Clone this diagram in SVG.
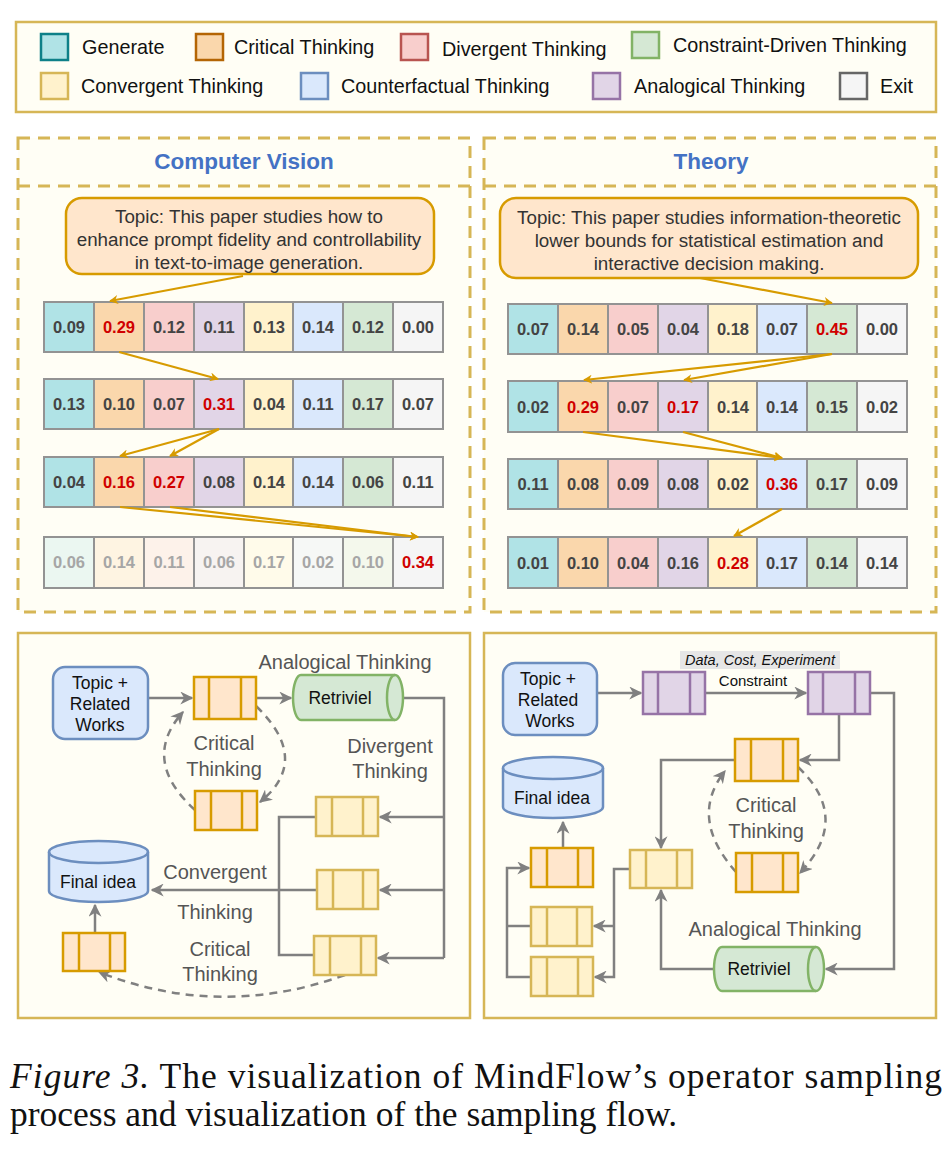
<svg xmlns="http://www.w3.org/2000/svg" width="952" height="1150" viewBox="0 0 952 1150">
<defs>
<style>
text{font-family:"Liberation Sans",Arial,sans-serif}
.lg{font-size:19.8px;fill:#111}
.sw{stroke-width:2.5}
.c{font-size:16.5px;font-weight:bold;fill:#444;text-anchor:middle;dominant-baseline:central}
.r{fill:#d00000}
.f{fill:#a6a6a6}
.cell{stroke:#939393;stroke-width:2}
.g{fill:#b0e3e6}.o{fill:#fad7ac}.d{fill:#f8cecc}.a{fill:#e1d5e7}.y{fill:#fff2cc}.b{fill:#dae8fc}.gr{fill:#d5e8d4}.x{fill:#f5f5f5}
.fade .g,.fade .o,.fade .d,.fade .a,.fade .y,.fade .b,.fade .gr{fill-opacity:0.25}
.oa{stroke:#d79b00;stroke-width:2.2;fill:none;marker-end:url(#oar)}
.ga{stroke:#808080;stroke-width:2.5;fill:none}
.ge{marker-end:url(#gar)}
.dash{stroke-dasharray:8 6}
.qo rect{fill:#ffe6cc;stroke:#d79b00;stroke-width:2.5}.qo line{stroke:#d79b00;stroke-width:2.5}
.qy rect{fill:#fff2cc;stroke:#d6b656;stroke-width:2.5}.qy line{stroke:#d6b656;stroke-width:2.5}
.qp rect{fill:#e1d5e7;stroke:#9673a6;stroke-width:2.5}.qp line{stroke:#9673a6;stroke-width:2.5}
.lab{font-size:20px;fill:#555;text-anchor:middle}
.nt{font-size:17.5px;fill:#111;text-anchor:middle}
.panel{fill:#fffef5;stroke:#d6b656;stroke-width:2.5}
.dp{fill:#fffef5;stroke:#d6b656;stroke-width:3;stroke-dasharray:12 8}
.tb{fill:#ffe6cc;stroke:#d79b00;stroke-width:2.5}
.tt{font-size:18.8px;fill:#333;text-anchor:middle}
.hd{font-size:22.5px;font-weight:bold;fill:#4472c4;text-anchor:middle}
.cap{font-family:"Liberation Serif","Times New Roman",serif;font-size:35.5px;fill:#111}
</style>
<marker id="oar" viewBox="0 0 10 10" refX="9" refY="5" markerWidth="9" markerHeight="9" orient="auto" markerUnits="userSpaceOnUse" ><path d="M0,0 L10,5 L0,10 L3,5 z" fill="#d79b00"/></marker>
<marker id="gar" viewBox="0 0 10 10" refX="9" refY="5" markerWidth="13" markerHeight="13" orient="auto" markerUnits="userSpaceOnUse"><path d="M0,0 L10,5 L0,10 L3,5 z" fill="#808080"/></marker>
</defs>
<rect width="952" height="1150" fill="#fff"/>

<g id="legend">
<rect x="16" y="22" width="920" height="90" fill="#fffef5" stroke="#d6b656" stroke-width="2.5"/>
<rect x="41" y="34" width="27" height="26" fill="#b0e3e6" stroke="#0e8088" class="sw"/><text x="82" y="54" class="lg">Generate</text>
<rect x="196" y="34" width="27" height="26" fill="#fad7ac" stroke="#b46504" class="sw"/><text x="234" y="54" class="lg">Critical Thinking</text>
<rect x="401" y="34" width="27" height="26" fill="#f8cecc" stroke="#b85450" class="sw"/><text x="442" y="56" class="lg">Divergent Thinking</text>
<rect x="632" y="32" width="27" height="26" fill="#d5e8d4" stroke="#82b366" class="sw"/><text x="673" y="52" class="lg">Constraint-Driven Thinking</text>
<rect x="41" y="73" width="27" height="26" fill="#fff2cc" stroke="#d6b656" class="sw"/><text x="81" y="93" class="lg">Convergent Thinking</text>
<rect x="301" y="73" width="27" height="26" fill="#dae8fc" stroke="#6c8ebf" class="sw"/><text x="341" y="93" class="lg">Counterfactual Thinking</text>
<rect x="593" y="73" width="27" height="26" fill="#e1d5e7" stroke="#9673a6" class="sw"/><text x="634" y="93" class="lg">Analogical Thinking</text>
<rect x="840" y="73" width="27" height="26" fill="#f5f5f5" stroke="#666666" class="sw"/><text x="880" y="93" class="lg">Exit</text>
</g>

<g id="cv-panel">
<rect x="18" y="138" width="452" height="474" class="dp"/>
<line x1="18" y1="186" x2="470" y2="186" stroke="#d6b656" stroke-width="3" stroke-dasharray="12 8"/>
<text x="244" y="169" class="hd">Computer Vision</text>
<rect x="66" y="198" width="368" height="76" rx="16" class="tb"/>
<text x="249" y="223" class="tt">Topic: This paper studies how to</text>
<text x="249" y="246" class="tt">enhance  prompt fidelity and controllability</text>
<text x="249" y="269" class="tt">in text-to-image generation.</text>
</g>
<g id="th-panel">
<rect x="484" y="138" width="452" height="474" class="dp"/>
<line x1="484" y1="186" x2="936" y2="186" stroke="#d6b656" stroke-width="3" stroke-dasharray="12 8"/>
<text x="711" y="169" class="hd">Theory</text>
<rect x="500" y="198" width="418" height="80" rx="16" class="tb"/>
<text x="709" y="224" class="tt">Topic: This paper studies information-theoretic</text>
<text x="709" y="247" class="tt">lower bounds for statistical estimation and</text>
<text x="709" y="270" class="tt">interactive decision making.</text>
</g>

<g id="cv-row1">
<rect x="44" y="302" width="50" height="50" class="cell g"/><rect x="94" y="302" width="50" height="50" class="cell o"/><rect x="144" y="302" width="50" height="50" class="cell d"/><rect x="194" y="302" width="50" height="50" class="cell a"/><rect x="244" y="302" width="49" height="50" class="cell y"/><rect x="293" y="302" width="50" height="50" class="cell b"/><rect x="343" y="302" width="50" height="50" class="cell gr"/><rect x="393" y="302" width="50" height="50" class="cell x"/>
<text x="69" y="327" class="c">0.09</text><text x="119" y="327" class="c r">0.29</text><text x="169" y="327" class="c">0.12</text><text x="219" y="327" class="c">0.11</text><text x="269" y="327" class="c">0.13</text><text x="318" y="327" class="c">0.14</text><text x="368" y="327" class="c">0.12</text><text x="418" y="327" class="c">0.00</text>
</g>
<g id="cv-row2">
<rect x="44" y="379" width="50" height="50" class="cell g"/><rect x="94" y="379" width="50" height="50" class="cell o"/><rect x="144" y="379" width="50" height="50" class="cell d"/><rect x="194" y="379" width="50" height="50" class="cell a"/><rect x="244" y="379" width="49" height="50" class="cell y"/><rect x="293" y="379" width="50" height="50" class="cell b"/><rect x="343" y="379" width="50" height="50" class="cell gr"/><rect x="393" y="379" width="50" height="50" class="cell x"/>
<text x="69" y="404" class="c">0.13</text><text x="119" y="404" class="c">0.10</text><text x="169" y="404" class="c">0.07</text><text x="219" y="404" class="c r">0.31</text><text x="269" y="404" class="c">0.04</text><text x="318" y="404" class="c">0.11</text><text x="368" y="404" class="c">0.17</text><text x="418" y="404" class="c">0.07</text>
</g>
<g id="cv-row3">
<rect x="44" y="457" width="50" height="50" class="cell g"/><rect x="94" y="457" width="50" height="50" class="cell o"/><rect x="144" y="457" width="50" height="50" class="cell d"/><rect x="194" y="457" width="50" height="50" class="cell a"/><rect x="244" y="457" width="49" height="50" class="cell y"/><rect x="293" y="457" width="50" height="50" class="cell b"/><rect x="343" y="457" width="50" height="50" class="cell gr"/><rect x="393" y="457" width="50" height="50" class="cell x"/>
<text x="69" y="482" class="c">0.04</text><text x="119" y="482" class="c r">0.16</text><text x="169" y="482" class="c r">0.27</text><text x="219" y="482" class="c">0.08</text><text x="269" y="482" class="c">0.14</text><text x="318" y="482" class="c">0.14</text><text x="368" y="482" class="c">0.06</text><text x="418" y="482" class="c">0.11</text>
</g>
<g id="cv-row4" class="fade">
<rect x="44" y="537" width="50" height="51" class="cell g"/><rect x="94" y="537" width="50" height="51" class="cell o"/><rect x="144" y="537" width="50" height="51" class="cell d"/><rect x="194" y="537" width="50" height="51" class="cell a"/><rect x="244" y="537" width="49" height="51" class="cell y"/><rect x="293" y="537" width="50" height="51" class="cell b"/><rect x="343" y="537" width="50" height="51" class="cell gr"/><rect x="393" y="537" width="50" height="51" class="cell x"/>
<text x="69" y="562" class="c f">0.06</text><text x="119" y="562" class="c f">0.14</text><text x="169" y="562" class="c f">0.11</text><text x="219" y="562" class="c f">0.06</text><text x="269" y="562" class="c f">0.17</text><text x="318" y="562" class="c f">0.02</text><text x="368" y="562" class="c f">0.10</text><text x="418" y="562" class="c r">0.34</text>
</g>

<g id="th-row1">
<rect x="508" y="304" width="50" height="50" class="cell g"/><rect x="558" y="304" width="50" height="50" class="cell o"/><rect x="608" y="304" width="50" height="50" class="cell d"/><rect x="658" y="304" width="50" height="50" class="cell a"/><rect x="708" y="304" width="49" height="50" class="cell y"/><rect x="757" y="304" width="50" height="50" class="cell b"/><rect x="807" y="304" width="50" height="50" class="cell gr"/><rect x="857" y="304" width="50" height="50" class="cell x"/>
<text x="533" y="329" class="c">0.07</text><text x="583" y="329" class="c">0.14</text><text x="633" y="329" class="c">0.05</text><text x="683" y="329" class="c">0.04</text><text x="733" y="329" class="c">0.18</text><text x="782" y="329" class="c">0.07</text><text x="832" y="329" class="c r">0.45</text><text x="882" y="329" class="c">0.00</text>
</g>
<g id="th-row2">
<rect x="508" y="381" width="50" height="51" class="cell g"/><rect x="558" y="381" width="50" height="51" class="cell o"/><rect x="608" y="381" width="50" height="51" class="cell d"/><rect x="658" y="381" width="50" height="51" class="cell a"/><rect x="708" y="381" width="49" height="51" class="cell y"/><rect x="757" y="381" width="50" height="51" class="cell b"/><rect x="807" y="381" width="50" height="51" class="cell gr"/><rect x="857" y="381" width="50" height="51" class="cell x"/>
<text x="533" y="407" class="c">0.02</text><text x="583" y="407" class="c r">0.29</text><text x="633" y="407" class="c">0.07</text><text x="683" y="407" class="c r">0.17</text><text x="733" y="407" class="c">0.14</text><text x="782" y="407" class="c">0.14</text><text x="832" y="407" class="c">0.15</text><text x="882" y="407" class="c">0.02</text>
</g>
<g id="th-row3">
<rect x="508" y="459" width="50" height="50" class="cell g"/><rect x="558" y="459" width="50" height="50" class="cell o"/><rect x="608" y="459" width="50" height="50" class="cell d"/><rect x="658" y="459" width="50" height="50" class="cell a"/><rect x="708" y="459" width="49" height="50" class="cell y"/><rect x="757" y="459" width="50" height="50" class="cell b"/><rect x="807" y="459" width="50" height="50" class="cell gr"/><rect x="857" y="459" width="50" height="50" class="cell x"/>
<text x="533" y="484" class="c">0.11</text><text x="583" y="484" class="c">0.08</text><text x="633" y="484" class="c">0.09</text><text x="683" y="484" class="c">0.08</text><text x="733" y="484" class="c">0.02</text><text x="782" y="484" class="c r">0.36</text><text x="832" y="484" class="c">0.17</text><text x="882" y="484" class="c">0.09</text>
</g>
<g id="th-row4">
<rect x="508" y="537" width="50" height="51" class="cell g"/><rect x="558" y="537" width="50" height="51" class="cell o"/><rect x="608" y="537" width="50" height="51" class="cell d"/><rect x="658" y="537" width="50" height="51" class="cell a"/><rect x="708" y="537" width="49" height="51" class="cell y"/><rect x="757" y="537" width="50" height="51" class="cell b"/><rect x="807" y="537" width="50" height="51" class="cell gr"/><rect x="857" y="537" width="50" height="51" class="cell x"/>
<text x="533" y="563" class="c">0.01</text><text x="583" y="563" class="c">0.10</text><text x="633" y="563" class="c">0.04</text><text x="683" y="563" class="c">0.16</text><text x="733" y="563" class="c r">0.28</text><text x="782" y="563" class="c">0.17</text><text x="832" y="563" class="c">0.14</text><text x="882" y="563" class="c">0.14</text>
</g>

<g id="sampling-arrows">
<path d="M243,276 L110,301" class="oa"/>
<path d="M119,352 L218,379" class="oa"/>
<path d="M219,429 L120,456" class="oa"/>
<path d="M219,429 L170,456" class="oa"/>
<path d="M120,507 L418,537" class="oa"/>
<path d="M170,507 L418,537" class="oa"/>
<path d="M700,278 L832,303" class="oa"/>
<path d="M832,354 L584,380" class="oa"/>
<path d="M832,354 L684,380" class="oa"/>
<path d="M583,432 L782,458" class="oa"/>
<path d="M683,432 L782,458" class="oa"/>
<path d="M782,509 L734,536" class="oa"/>
</g>

<g id="cv-flow-panel"><rect x="18" y="633" width="452" height="385" class="panel"/></g>
<g id="th-flow-panel"><rect x="484" y="633" width="452" height="385" class="panel"/></g>

<g id="connectors">
<path d="M148,698 L192,698" class="ga ge"/>
<path d="M256,698 L291,698" class="ga ge"/>
<path d="M403,698 L444,698 L444,958" class="ga"/>
<path d="M444,817 L380,817" class="ga ge"/>
<path d="M444,890 L380,890" class="ga ge"/>
<path d="M444,958 L378,958" class="ga ge"/>
<path d="M316,817 L279,817 L279,955 L314,955" class="ga"/>
<path d="M317,890 L152,890" class="ga ge"/>
<path d="M95,933 L95,905" class="ga ge"/>
<path d="M256,706 Q312,760 260,802" class="ga ge dash"/>
<path d="M195,810 Q140,760 183,712" class="ga ge dash"/>
<path d="M345,975 Q220,1020 99,972" class="ga ge dash"/>

<path d="M597,693 L641,693" class="ga ge"/>
<path d="M705,693 L806,693" class="ga ge"/>
<path d="M870,693 L894,693 L894,969 L826,969" class="ga ge"/>
<path d="M839,714 L839,760 L800,760" class="ga ge"/>
<path d="M735,760 L661,760 L661,848" class="ga ge"/>
<path d="M714,969 L661,969 L661,890" class="ga ge"/>
<path d="M630,869 L614,869 L614,977 L595,977" class="ga ge"/>
<path d="M614,926 L594,926" class="ga ge"/>
<path d="M531,926 L507,926" class="ga"/>
<path d="M531,977 L507,977 L507,868 L529,868" class="ga ge"/>
<path d="M563,848 L563,822" class="ga ge"/>
<path d="M798,767 Q852,818 800,873" class="ga ge dash"/>
<path d="M736,872 Q688,818 725,771" class="ga ge dash"/>
</g>

<g id="cv-topic"><rect x="53" y="667" width="95" height="72" rx="12" fill="#dae8fc" stroke="#6c8ebf" stroke-width="2.5"/><text x="100" y="689" class="nt">Topic +</text><text x="100" y="710" class="nt">Related</text><text x="100" y="731" class="nt">Works</text></g>
<g id="cv-q1" class="qo"><rect x="194" y="677" width="62" height="42"/><line x1="209" y1="677" x2="209" y2="719"/><line x1="241" y1="677" x2="241" y2="719"/></g>
<g id="cv-retriviel"><path d="M301,675 L395,675 A8,22.5 0 0 1 395,720 L301,720 A8,22.5 0 0 1 301,675 Z" fill="#d5e8d4" stroke="#82b366" stroke-width="2.5"/><path d="M395,675 A8,22.5 0 0 0 395,720" fill="none" stroke="#82b366" stroke-width="2.5"/><text x="340" y="704" class="nt">Retriviel</text></g>
<text x="345" y="669" class="lab">Analogical Thinking</text>
<text x="224" y="750" class="lab">Critical</text><text x="224" y="776" class="lab">Thinking</text>
<g id="cv-q2" class="qo"><rect x="195" y="791" width="62" height="39"/><line x1="211" y1="791" x2="211" y2="830"/><line x1="242" y1="791" x2="242" y2="830"/></g>
<text x="390" y="753" class="lab">Divergent</text><text x="390" y="778" class="lab">Thinking</text>
<g id="cv-q3" class="qy"><rect x="316" y="797" width="62" height="39"/><line x1="332" y1="797" x2="332" y2="836"/><line x1="363" y1="797" x2="363" y2="836"/></g>
<g id="cv-q4" class="qy"><rect x="317" y="870" width="61" height="39"/><line x1="333" y1="870" x2="333" y2="909"/><line x1="363" y1="870" x2="363" y2="909"/></g>
<g id="cv-q5" class="qy"><rect x="314" y="936" width="62" height="39"/><line x1="330" y1="936" x2="330" y2="975"/><line x1="361" y1="936" x2="361" y2="975"/></g>
<g id="cv-final"><path d="M49,852 A49.5,11 0 0 1 148,852 L148,891 A49.5,11 0 0 1 49,891 Z" fill="#dae8fc" stroke="#6c8ebf" stroke-width="2.5"/><path d="M49,852 A49.5,11 0 0 0 148,852" fill="none" stroke="#6c8ebf" stroke-width="2.5"/><text x="98" y="888" class="nt">Final idea</text></g>
<text x="215" y="879" class="lab">Convergent</text><text x="215" y="919" class="lab">Thinking</text>
<g id="cv-q6" class="qo"><rect x="63" y="933" width="62" height="38"/><line x1="79" y1="933" x2="79" y2="971"/><line x1="110" y1="933" x2="110" y2="971"/></g>
<text x="220" y="956" class="lab">Critical</text><text x="220" y="981" class="lab">Thinking</text>

<g id="th-topic"><rect x="503" y="663" width="94" height="72" rx="12" fill="#dae8fc" stroke="#6c8ebf" stroke-width="2.5"/><text x="548" y="685" class="nt">Topic +</text><text x="548" y="706" class="nt">Related</text><text x="550" y="727" class="nt">Works</text></g>
<g id="th-q1" class="qp"><rect x="643" y="672" width="62" height="42"/><line x1="658" y1="672" x2="658" y2="714"/><line x1="690" y1="672" x2="690" y2="714"/></g>
<rect x="680" y="651" width="160" height="18" fill="#e6e6e6"/>
<text x="760" y="665" font-size="14.5" font-style="italic" fill="#111" text-anchor="middle">Data, Cost, Experiment</text>
<text x="753" y="686" font-size="15" fill="#111" text-anchor="middle">Constraint</text>
<g id="th-q2" class="qp"><rect x="808" y="672" width="62" height="42"/><line x1="823" y1="672" x2="823" y2="714"/><line x1="855" y1="672" x2="855" y2="714"/></g>
<g id="th-q3" class="qo"><rect x="735" y="739" width="63" height="42"/><line x1="751" y1="739" x2="751" y2="781"/><line x1="783" y1="739" x2="783" y2="781"/></g>
<text x="766" y="812" class="lab">Critical</text><text x="766" y="838" class="lab">Thinking</text>
<g id="th-q4" class="qo"><rect x="736" y="853" width="62" height="39"/><line x1="752" y1="853" x2="752" y2="892"/><line x1="783" y1="853" x2="783" y2="892"/></g>
<g id="th-qy" class="qy"><rect x="630" y="850" width="62" height="38"/><line x1="646" y1="850" x2="646" y2="888"/><line x1="677" y1="850" x2="677" y2="888"/></g>
<g id="th-final"><path d="M503,768 A50,11 0 0 1 603,768 L603,807 A50,11 0 0 1 503,807 Z" fill="#dae8fc" stroke="#6c8ebf" stroke-width="2.5"/><path d="M503,768 A50,11 0 0 0 603,768" fill="none" stroke="#6c8ebf" stroke-width="2.5"/><text x="552" y="804" class="nt">Final idea</text></g>
<g id="th-q5" class="qo"><rect x="531" y="848" width="62" height="39"/><line x1="547" y1="848" x2="547" y2="887"/><line x1="578" y1="848" x2="578" y2="887"/></g>
<g id="th-q6" class="qy"><rect x="531" y="907" width="61" height="39"/><line x1="547" y1="907" x2="547" y2="946"/><line x1="577" y1="907" x2="577" y2="946"/></g>
<g id="th-q7" class="qy"><rect x="531" y="957" width="62" height="39"/><line x1="547" y1="957" x2="547" y2="996"/><line x1="578" y1="957" x2="578" y2="996"/></g>
<text x="775" y="936" class="lab">Analogical Thinking</text>
<g id="th-retriviel"><path d="M722,947 L816,947 A8,22 0 0 1 816,991 L722,991 A8,22 0 0 1 722,947 Z" fill="#d5e8d4" stroke="#82b366" stroke-width="2.5"/><path d="M816,947 A8,22 0 0 0 816,991" fill="none" stroke="#82b366" stroke-width="2.5"/><text x="759" y="975" class="nt">Retriviel</text></g>

<g id="caption">
<text x="10" y="1088" class="cap" textLength="932" lengthAdjust="spacing"><tspan font-style="italic">Figure 3.</tspan>  The visualization of MindFlow’s operator sampling</text>
<text x="10" y="1126" class="cap">process and visualization of the sampling flow.</text>
</g>
</svg>
